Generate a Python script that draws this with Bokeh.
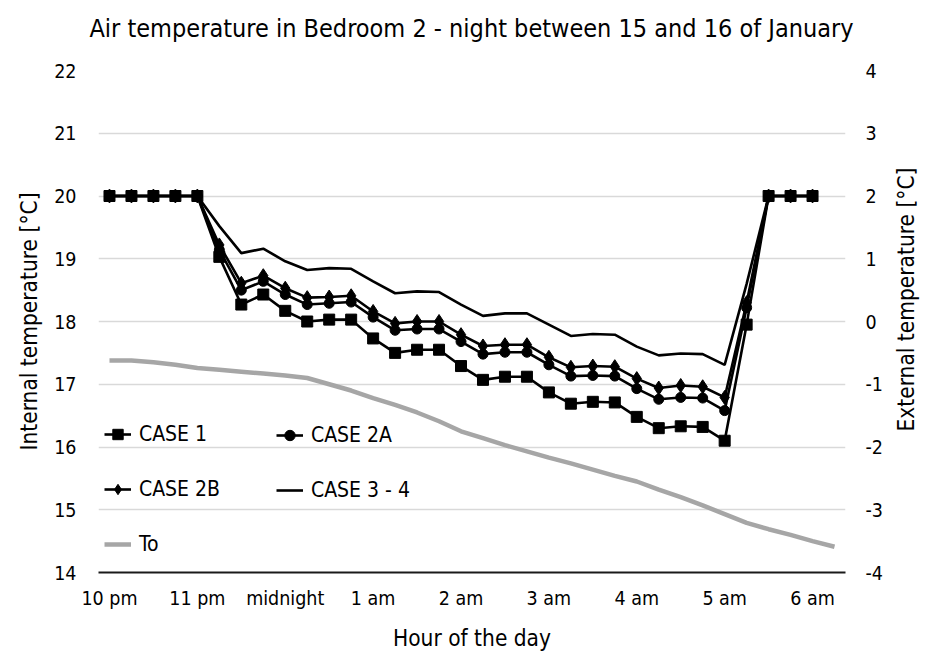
import math
from bokeh.plotting import figure
from bokeh.models import Range1d, LinearAxis, FixedTicker, Legend, LegendItem, Label
from bokeh.embed import file_html
from bokeh.resources import INLINE

# ---- data -------------------------------------------------------------
times = ["22:00", "22:15", "22:30", "22:45", "23:00", "23:15", "23:30", "23:45",
         "00:00", "00:15", "00:30", "00:45", "01:00", "01:15", "01:30", "01:45",
         "02:00", "02:15", "02:30", "02:45", "03:00", "03:15", "03:30", "03:45",
         "04:00", "04:15", "04:30", "04:45", "05:00", "05:15", "05:30", "05:45",
         "06:00", "06:15"]
tick_times = ["22:00", "23:00", "00:00", "01:00", "02:00", "03:00", "04:00", "05:00", "06:00"]
tick_labels = ["10 pm", "11 pm", "midnight", "1 am", "2 am", "3 am", "4 am", "5 am", "6 am"]
left_ticks = [14, 15, 16, 17, 18, 19, 20, 21, 22]
right_ticks = [-4, -3, -2, -1, 0, 1, 2, 3, 4]

case1 = [20, 20, 20, 20, 20, 19.03, 18.27, 18.43, 18.17, 18.00, 18.03, 18.03,
         17.73, 17.50, 17.55, 17.55, 17.29, 17.07, 17.12, 17.12, 16.87, 16.69,
         16.72, 16.71, 16.48, 16.30, 16.33, 16.32, 16.10, 17.95, 20, 20, 20]
case2a = [20, 20, 20, 20, 20, 19.14, 18.50, 18.64, 18.43, 18.27, 18.29, 18.31,
          18.07, 17.86, 17.88, 17.88, 17.68, 17.48, 17.51, 17.51, 17.31, 17.13,
          17.14, 17.13, 16.93, 16.76, 16.79, 16.78, 16.58, 18.22, 20, 20, 20]
case2b = [20, 20, 20, 20, 20, 19.22, 18.61, 18.73, 18.53, 18.38, 18.39, 18.41,
          18.16, 17.97, 18.00, 18.00, 17.79, 17.61, 17.63, 17.63, 17.43, 17.27,
          17.29, 17.28, 17.09, 16.94, 16.98, 16.96, 16.79, 18.30, 20, 20, 20]
case34 = [20, 20, 20, 20, 20, 19.52, 19.09, 19.16, 18.96, 18.82, 18.85, 18.84,
          18.64, 18.45, 18.48, 18.47, 18.27, 18.09, 18.13, 18.13, 17.95, 17.77,
          17.80, 17.79, 17.60, 17.46, 17.49, 17.48, 17.31, 18.60, 20, 20, 20]
to_ext = [-0.62, -0.62, -0.65, -0.69, -0.74, -0.77, -0.80, -0.83, -0.86, -0.90,
          -1.00, -1.10, -1.22, -1.33, -1.45, -1.59, -1.75, -1.86, -1.97, -2.07,
          -2.17, -2.26, -2.36, -2.46, -2.55, -2.68, -2.80, -2.93, -3.07, -3.21,
          -3.31, -3.40, -3.50, -3.59]

title_text = "Air temperature in Bedroom 2 - night between 15 and 16 of January"

# ---- figure -----------------------------------------------------------
FONT = "DejaVu Sans Condensed"
BLACK = "#000000"

x_case = [times.index(t) for t in times[:len(case1)]]
x_to = [times.index(t) for t in times[:len(to_ext)]]

p = figure(width=927, height=653, output_backend="svg", toolbar_location=None,
           x_range=Range1d(-0.5, len(times) - 0.5),
           y_range=Range1d(left_ticks[0], left_ticks[-1]),
           min_border_left=98, min_border_right=82, min_border_top=70,
           min_border_bottom=80)
p.extra_y_ranges = {"ext": Range1d(right_ticks[0], right_ticks[-1])}
p.outline_line_color = None
p.background_fill_color = "white"
p.border_fill_color = "white"

# chart title (as a label in the top panel, centred over the plot area)
ttl = Label(x=373, y=42, x_units="screen", y_units="screen", text=title_text,
            text_align="center", text_baseline="middle",
            text_font=FONT, text_font_size="25px", text_color=BLACK)
p.add_layout(ttl, "above")

# x axis
xa = p.xaxis[0]
xa.ticker = FixedTicker(ticks=[times.index(t) for t in tick_times])
xa.major_label_overrides = {times.index(t): lab for t, lab in zip(tick_times, tick_labels)}
xa.axis_label = "Hour of the day"
xa.axis_line_color = "#1a1a1a"
xa.axis_line_width = 2
xa.major_tick_line_color = None
xa.minor_tick_line_color = None
xa.major_label_standoff = 8
xa.axis_label_standoff = 12

# left axis
ya = p.yaxis[0]
ya.ticker = FixedTicker(ticks=left_ticks)
ya.axis_label = "Internal temperature [°C]"
ya.axis_line_color = None
ya.major_tick_line_color = None
ya.minor_tick_line_color = None
ya.major_label_standoff = 16
ya.axis_label_standoff = 9

# right axis (hyphen minus signs as in the original)
ra = LinearAxis(y_range_name="ext", ticker=FixedTicker(ticks=right_ticks))
ra.major_label_overrides = {v: str(v) for v in right_ticks}
ra.axis_line_color = None
ra.major_tick_line_color = None
ra.minor_tick_line_color = None
ra.major_label_standoff = 14
p.add_layout(ra, "right")

for ax in (xa, ya, ra):
    ax.major_label_text_font = FONT
    ax.major_label_text_font_size = "19.5px"
    ax.major_label_text_color = BLACK
    ax.axis_label_text_font = FONT
    ax.axis_label_text_font_size = "22.5px"
    ax.axis_label_text_font_style = "normal"
    ax.axis_label_text_color = BLACK

# right axis title, reading bottom to top like the left one
rtitle = Label(x=20, y=273, x_units="screen", y_units="screen",
               text="External temperature [°C]", angle=math.pi / 2,
               text_align="center", text_baseline="middle",
               text_font=FONT, text_font_size="22.5px", text_color=BLACK)
p.add_layout(rtitle, "right")

p.xgrid.grid_line_color = None
p.ygrid.ticker = FixedTicker(ticks=left_ticks)
p.ygrid.grid_line_color = "#d9d9d9"
p.ygrid.grid_line_width = 1.3

# ---- series -----------------------------------------------------------
to_line = p.line(x_to, to_ext, y_range_name="ext", line_color="#a6a6a6", line_width=4.5)

l34 = p.line(x_case, case34, line_color=BLACK, line_width=2.6)

l2b = p.line(x_case, case2b, line_color=BLACK, line_width=2.6)
m2b = p.scatter(x_case, case2b, marker="diamond", size=14, fill_color=BLACK, line_color=BLACK)

l2a = p.line(x_case, case2a, line_color=BLACK, line_width=2.6)
m2a = p.scatter(x_case, case2a, marker="circle", size=10, fill_color=BLACK, line_color=BLACK)

l1 = p.line(x_case, case1, line_color=BLACK, line_width=2.6)
m1 = p.scatter(x_case, case1, marker="square", size=11, fill_color=BLACK, line_color=BLACK)

# ---- legends ----------------------------------------------------------
def make_legend(items, loc):
    lg = Legend(items=items, location=loc, orientation="vertical")
    lg.label_text_font = FONT
    lg.label_text_font_size = "21px"
    lg.label_text_color = BLACK
    lg.glyph_width = 27
    lg.glyph_height = 26
    lg.label_height = 26
    lg.spacing = 29
    lg.label_standoff = 8
    lg.padding = 0
    lg.margin = 0
    lg.border_line_color = None
    lg.background_fill_alpha = 0
    return lg

leg1 = make_legend([LegendItem(label="CASE 1", renderers=[l1, m1]),
                    LegendItem(label="CASE 2B", renderers=[l2b, m2b]),
                    LegendItem(label="To", renderers=[to_line])], (6, 15))
leg2 = make_legend([LegendItem(label="CASE 2A", renderers=[l2a, m2a]),
                    LegendItem(label="CASE 3 - 4", renderers=[l34])], (178, 69))
p.add_layout(leg1, "center")
p.add_layout(leg2, "center")

open("out.html", "w").write(file_html(p, INLINE))
